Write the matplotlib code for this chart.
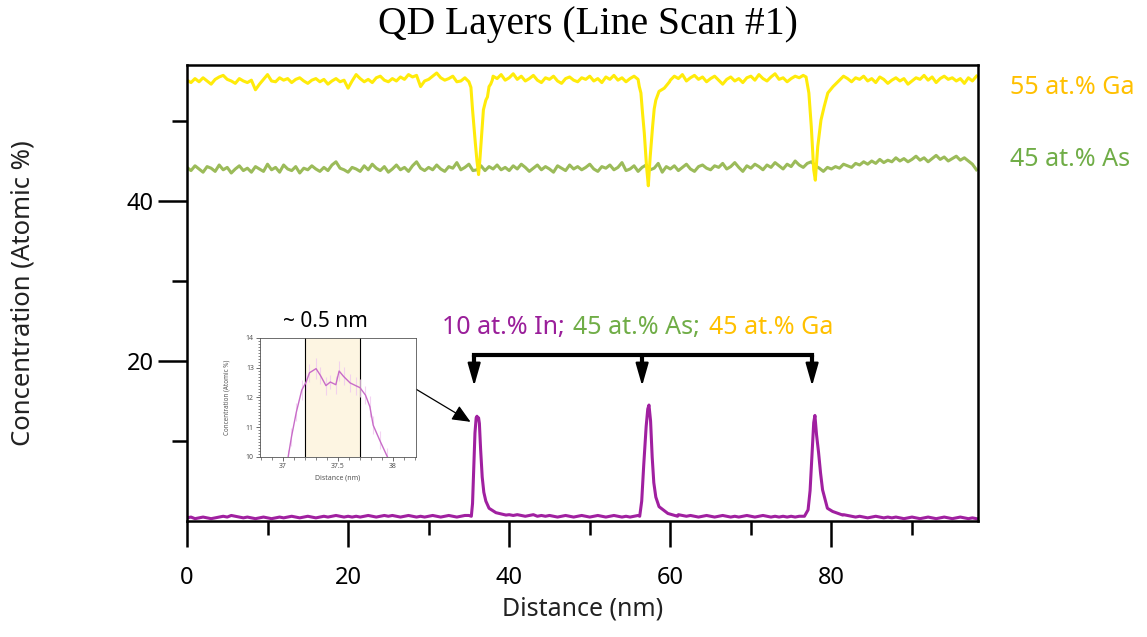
import numpy as np
import matplotlib
matplotlib.use("Agg")
import matplotlib.pyplot as plt

plt.rcParams['font.family'] = ['Noto Sans', 'DejaVu Sans']

# ---- data ----
step = 0.5
base_x = np.arange(0, 98.01, step)

ga_base = [
    55.1, 54.8, 55.3, 54.9, 55.4, 55.0, 54.6, 55.2, 55.5, 55.7, 55.2, 55.0, 54.7, 55.3, 55.0, 54.8, 55.1, 53.9, 54.6, 55.2,
    55.8, 55.0, 54.9, 55.4, 55.1, 55.3, 54.8, 55.2, 55.4, 55.0, 54.7, 55.1, 55.3, 54.9, 55.2, 54.6, 55.0, 55.3, 54.9, 55.1,
    54.1, 55.0, 55.8, 55.3, 54.9, 55.2, 54.8, 55.4, 55.6, 55.1, 54.9, 55.3, 55.0, 55.5, 55.2, 55.8, 55.5, 55.7, 54.3, 55.0,
    55.2, 55.6, 56.0, 55.4, 55.1, 55.3, 55.6, 54.9, 55.0, 55.4, 55.0, 55.0, 55.0, 55.0, 55.0, 55.0, 55.6, 55.3, 55.8, 55.1,
    55.4, 55.9, 55.2, 55.6, 55.0, 55.3, 55.7, 55.1, 54.8, 55.4, 55.2, 55.6, 55.0, 54.7, 55.3, 55.5, 55.1, 54.9, 55.4, 55.2,
    55.6, 55.0, 55.3, 54.8, 55.5, 55.2, 55.7, 55.1, 55.4, 54.9, 55.3, 55.6, 55.2, 54.8, 55.0, 55.0, 55.0, 55.0, 55.0, 55.0,
    55.1, 55.6, 55.3, 55.8, 55.0, 55.4, 55.7, 55.2, 55.5, 54.9, 55.3, 55.6, 55.1, 54.6, 55.2, 55.5, 55.0, 55.3, 54.8, 55.4,
    55.6, 55.1, 55.8, 55.3, 55.0, 55.5, 55.9, 55.2, 55.4, 54.9, 55.3, 55.6, 55.4, 55.7, 55.0, 55.0, 55.0, 55.0, 55.0, 55.0,
    55.0, 55.0, 55.1, 55.6, 55.3, 54.9, 55.4, 55.2, 55.6, 55.0, 55.3, 54.8, 55.5, 55.2, 54.7, 55.1, 55.4, 55.0, 55.3, 54.6,
    55.0, 55.4, 55.2, 55.7, 55.1, 55.5, 54.8, 55.3, 55.6, 55.2, 55.4, 55.0, 55.3, 54.7, 55.4, 55.0, 55.6,
]
ga_dips = [
    ([35.0, 35.25, 35.45, 35.65, 35.8, 36.0, 36.2, 36.35, 36.5, 36.65, 36.8, 37.1, 37.3, 37.5, 37.7, 37.9],
     [54.9, 54.2, 51.4, 49.0, 47.2, 45.0, 43.3, 45.0, 47.2, 49.5, 51.4, 52.6, 53.0, 54.3, 54.6, 55.1]),
    ([56.15, 56.35, 56.55, 56.77, 57.05, 57.27, 57.5, 57.8, 58.0, 58.2, 58.6, 59.25, 59.9],
     [54.3, 53.5, 51.0, 48.5, 44.3, 41.9, 45.5, 49.3, 51.5, 52.6, 53.7, 54.1, 54.9]),
    ([76.85, 77.2, 77.5, 77.8, 78.0, 78.3, 78.7, 79.1, 79.55, 80.2, 80.8],
     [55.5, 53.5, 49.3, 43.9, 42.6, 46.8, 50.1, 51.8, 53.5, 54.3, 54.9]),
]

as_base = [
    44.2, 43.8, 44.4, 44.0, 43.6, 44.3, 44.1, 43.7, 44.5, 43.9, 44.2, 43.5, 44.0, 44.4, 43.8, 44.1, 43.6, 44.3, 44.0, 43.7,
    44.6, 43.9, 44.2, 43.6, 44.5, 44.0, 43.8, 44.3, 43.5, 44.1, 43.9, 44.4, 44.0, 43.7, 44.2, 43.8, 44.5, 44.9, 44.1, 43.9,
    43.6, 44.2, 44.0, 43.7, 44.4, 43.9, 44.6, 44.1, 43.8, 44.3, 43.6, 44.0, 44.5, 43.9, 44.2, 43.7, 44.4, 44.9, 44.1, 43.8,
    44.2, 43.9, 44.5, 44.0, 43.7, 44.3, 44.1, 44.8, 43.9, 44.2, 44.6, 43.8, 43.9, 44.4, 43.8, 44.3, 44.0, 44.5, 43.9, 44.2,
    43.8, 44.4, 44.0, 44.6, 44.2, 43.7, 44.1, 44.5, 43.9, 44.3, 44.0, 43.6, 44.4, 44.1, 43.8, 44.5, 44.0, 44.3, 43.9, 44.2,
    44.6, 44.0, 43.7, 44.3, 44.1, 44.5, 43.9, 44.2, 44.8, 43.8, 44.0, 44.4, 43.7, 44.2, 44.5, 43.9, 44.1, 44.7, 43.6, 44.3,
    44.0, 44.4, 43.8, 44.2, 44.6, 44.0, 43.7, 44.3, 44.5, 44.1, 43.9, 44.4, 44.2, 44.7, 44.0, 44.3, 44.8, 44.2, 43.7, 44.4,
    44.1, 44.6, 44.3, 43.9, 44.5, 44.2, 44.8, 44.4, 44.0, 44.6, 44.3, 45.0, 44.5, 44.2, 44.7, 44.9, 44.4, 44.1, 43.7, 44.2,
    44.0, 44.3, 44.1, 44.6, 44.4, 44.2, 44.7, 44.5, 44.9, 44.6, 45.0, 44.7, 45.2, 44.8, 45.1, 44.9, 45.4, 45.0, 45.3, 44.9,
    45.2, 45.6, 45.1, 45.4, 44.9, 45.3, 45.7, 45.2, 45.5, 45.0, 45.3, 45.6, 45.1, 45.4, 45.0, 44.6, 43.9,
]

in_base = [
    0.4, 0.5, 0.3, 0.4, 0.5, 0.4, 0.3, 0.4, 0.5, 0.6, 0.5, 0.7, 0.6, 0.5, 0.4, 0.5, 0.4, 0.3, 0.4, 0.5,
    0.4, 0.3, 0.4, 0.5, 0.4, 0.5, 0.6, 0.5, 0.4, 0.5, 0.6, 0.5, 0.4, 0.5, 0.6, 0.5, 0.6, 0.7, 0.6, 0.5,
    0.6, 0.5, 0.6, 0.5, 0.6, 0.7, 0.6, 0.5, 0.6, 0.7, 0.6, 0.7, 0.6, 0.5, 0.6, 0.7, 0.6, 0.5, 0.6, 0.5,
    0.6, 0.7, 0.6, 0.5, 0.6, 0.7, 0.6, 0.5, 0.6, 0.7, 0.7, 0.7, 0.7, 0.7, 0.7, 0.7, 0.7, 0.7, 0.7, 0.7,
    0.8, 0.7, 0.8, 0.7, 0.6, 0.7, 0.8, 0.6, 0.7, 0.6, 0.7, 0.6, 0.5, 0.6, 0.7, 0.6, 0.5, 0.6, 0.7, 0.6,
    0.5, 0.6, 0.7, 0.6, 0.5, 0.6, 0.7, 0.6, 0.5, 0.6, 0.5, 0.6, 0.7, 0.6, 0.6, 0.6, 0.6, 0.6, 0.6, 0.6,
    0.6, 0.6, 0.8, 0.7, 0.6, 0.7, 0.6, 0.5, 0.6, 0.7, 0.6, 0.5, 0.6, 0.7, 0.6, 0.5, 0.6, 0.5, 0.6, 0.7,
    0.6, 0.5, 0.6, 0.7, 0.6, 0.5, 0.6, 0.5, 0.6, 0.5, 0.6, 0.5, 0.6, 0.6, 0.6, 0.6, 0.6, 0.6, 0.6, 0.6,
    0.6, 0.6, 0.6, 0.8, 0.7, 0.6, 0.5, 0.6, 0.5, 0.4, 0.5, 0.6, 0.5, 0.4, 0.5, 0.4, 0.5, 0.4, 0.3, 0.4,
    0.5, 0.4, 0.3, 0.4, 0.5, 0.4, 0.3, 0.4, 0.5, 0.4, 0.3, 0.4, 0.5, 0.4, 0.3, 0.4, 0.3,
]
in_peaks = [
    ([35.3, 35.45, 35.6, 35.75, 35.9, 36.0, 36.1, 36.2, 36.3, 36.45, 36.65, 36.85, 37.1, 37.5, 38.35, 39.6],
     [0.6, 2.2, 6.5, 11.0, 12.9, 13.1, 12.8, 12.9, 12.2, 9.0, 5.5, 3.6, 2.5, 1.6, 1.05, 0.75]),
    ([56.2, 56.45, 56.7, 57.0, 57.2, 57.35, 57.55, 57.75, 57.95, 58.2, 58.6, 59.7, 60.9],
     [0.6, 2.5, 7.0, 11.8, 14.0, 14.5, 12.5, 8.0, 4.8, 3.0, 1.8, 0.95, 0.6]),
    ([76.65, 77.1, 77.35, 77.6, 77.8, 77.95, 78.15, 78.4, 78.65, 78.9, 79.5, 80.15, 81.4],
     [0.6, 1.4, 3.8, 8.5, 12.3, 13.2, 10.8, 8.6, 6.0, 3.9, 1.6, 1.2, 0.75]),
]

# inset: zoom on the first QD layer
inset_x = [37.046, 37.076, 37.12, 37.17, 37.21, 37.24, 37.30, 37.34, 37.39, 37.43, 37.48,
           37.51, 37.55, 37.61, 37.66, 37.70, 37.75, 37.79, 37.82, 37.88, 37.95]
inset_y = [10.0, 10.67, 11.5, 12.25, 12.52, 12.83, 12.97, 12.74, 12.40, 12.52, 12.43,
           12.89, 12.71, 12.49, 12.40, 12.33, 12.08, 11.69, 11.07, 10.56, 10.0]
inset_err = [0.25, 0.3, 0.3, 0.35, 0.3, 0.3, 0.35, 0.3, 0.3, 0.25, 0.3,
             0.35, 0.3, 0.3, 0.3, 0.3, 0.3, 0.35, 0.3, 0.3, 0.3]
band = (37.2, 37.7)

layer_pos = [35.65, 56.5, 77.6]


def merge(base, segments):
    x = np.asarray(base_x)
    y = np.asarray(base, dtype=float)
    keep = np.ones(len(x), dtype=bool)
    xs, ys = [], []
    for sx, sy in segments:
        keep &= ~((x >= sx[0]) & (x <= sx[-1]))
        xs.append(sx)
        ys.append(sy)
    allx = np.concatenate([x[keep]] + [np.asarray(s) for s in xs])
    ally = np.concatenate([y[keep]] + [np.asarray(s) for s in ys])
    order = np.argsort(allx)
    return allx[order], ally[order]


ga_x, ga_y = merge(ga_base, ga_dips)
as_x, as_y = np.asarray(base_x), np.asarray(as_base)
in_x, in_y = merge(in_base, in_peaks)

GA_LINE = '#FFEB0A'
AS_LINE = '#9BBB59'
IN_LINE = '#A020A0'
GA_TXT = '#FFC000'
AS_TXT = '#70AD47'
IN_TXT = '#9A1F9A'

fig = plt.figure(figsize=(11.47, 6.37), dpi=100)
ax = fig.add_axes([0.163, 0.182, 0.6897, 0.716])

ax.plot(as_x, as_y, color=AS_LINE, lw=2.2)
ax.plot(ga_x, ga_y, color=GA_LINE, lw=2.2)
ax.plot(in_x, in_y, color=IN_LINE, lw=2.2)

ax.set_xlim(0, 98.2)
ax.set_ylim(0, 57)
ax.set_xticks([0, 20, 40, 60, 80])
ax.set_xticks([10, 30, 50, 70, 90], minor=True)
ax.set_yticks([20, 40])
ax.set_yticks([10, 30, 50], minor=True)
for s in ax.spines.values():
    s.set_linewidth(1.8)
ax.tick_params(axis='x', which='major', length=19, width=1.8, pad=13, labelsize=17, colors='black')
ax.tick_params(axis='x', which='minor', length=10, width=1.8)
ax.tick_params(axis='y', which='major', length=21, width=1.8, pad=3, labelsize=17)
ax.tick_params(axis='y', which='minor', length=11, width=1.8)

ax.set_xlabel('Distance (nm)', fontsize=18, color='#222222')
ax.set_ylabel('Concentration (Atomic %)', fontsize=18.5, color='#222222')
ax.xaxis.set_label_coords(0.5, -0.165)
ax.yaxis.set_label_coords(-0.192, 0.5)

fig.text(0.513, 0.961, 'QD Layers (Line Scan #1)', ha='center', va='center',
         fontsize=28.5, family='Liberation Serif')

fig.text(0.8806, 0.862, '55 at.% Ga', color=GA_TXT, fontsize=18, va='center')
fig.text(0.8806, 0.750, '45 at.% As', color=AS_TXT, fontsize=18, va='center')

t1 = ax.text(31.7, 24.25, '10 at.% In;', color=IN_TXT, fontsize=18, va='center', ha='left')
t2 = ax.annotate('45 at.% As;', xy=(1, 0.5), xycoords=t1, xytext=(6, 0),
                 textcoords='offset points', color=AS_TXT, fontsize=18, va='center', ha='left')
ax.annotate('45 at.% Ga', xy=(1, 0.5), xycoords=t2, xytext=(6, 0),
            textcoords='offset points', color=GA_TXT, fontsize=18, va='center', ha='left')

# bracket pointing at the three layers
ax.plot([layer_pos[0], layer_pos[-1]], [20.75, 20.75], color='black', lw=3, solid_capstyle='projecting')
for p in layer_pos:
    ax.plot([p, p], [20.75, 19.0], color='black', lw=3, solid_capstyle='butt')
    ax.annotate('', xy=(p, 16.9), xytext=(p, 19.5),
                arrowprops=dict(arrowstyle='-|>,head_length=0.7,head_width=0.2',
                                color='black', lw=1.5, mutation_scale=20, shrinkA=0, shrinkB=0))

# inset
axin = fig.add_axes([0.2267, 0.2826, 0.136, 0.1868])
axin.axvspan(band[0], band[1], color='#FDF5E2', zorder=0)
axin.axvline(band[0], color='black', lw=0.8)
axin.axvline(band[1], color='black', lw=0.8)
axin.errorbar(inset_x, inset_y, yerr=inset_err, fmt='none', ecolor='#F0C8F0', elinewidth=0.8, alpha=0.8)
axin.plot(inset_x, inset_y, color='#C86CC8', lw=1.0)
axin.set_xlim(36.79, 38.21)
axin.set_ylim(10, 14)
axin.set_xticks([37, 37.5, 38])
axin.set_xticklabels(['37', '37.5', '38'])
axin.set_xticks(np.arange(36.8, 38.25, 0.1), minor=True)
axin.set_yticks([10, 11, 12, 13, 14])
axin.set_yticks(np.arange(10, 14.01, 0.1), minor=True)
axin.tick_params(which='major', length=3, width=0.6, labelsize=5, colors='#555555', pad=1.5)
axin.tick_params(which='minor', length=1.8, width=0.5, colors='#555555')
for s in axin.spines.values():
    s.set_linewidth(0.6)
    s.set_color('#555555')
axin.set_xlabel('Distance (nm)', fontsize=5, color='#555555', labelpad=3)
axin.set_ylabel('Concentration (Atomic %)', fontsize=4.5, color='#555555', labelpad=11)
axin.text(37.39, 14.55, '~ 0.5 nm', ha='center', va='center', fontsize=15)

ax.annotate('', xy=(35.2, 12.4), xycoords='data', xytext=(1.0, 0.57), textcoords=axin.transAxes,
            arrowprops=dict(arrowstyle='-|>,head_length=0.8,head_width=0.35', color='black',
                            lw=0.9, mutation_scale=14, shrinkA=0, shrinkB=0))

fig.savefig('out.png', dpi=100)
